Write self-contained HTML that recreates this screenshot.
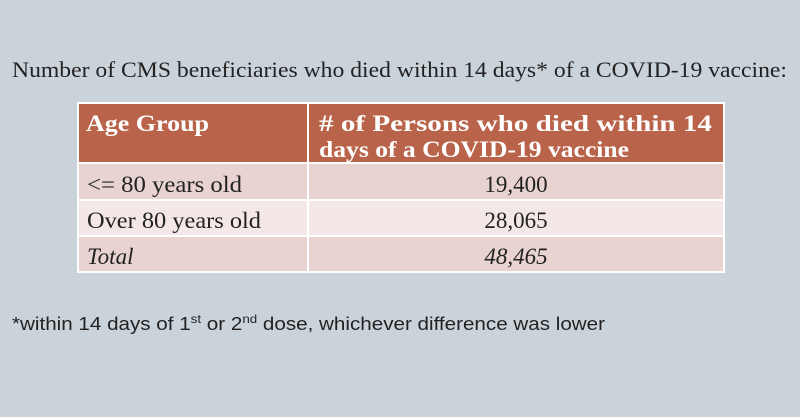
<!DOCTYPE html>
<html><head><meta charset="utf-8"><style>
html,body{margin:0;padding:0;width:800px;height:417px;overflow:hidden;background:#cbd3da;}
</style></head><body>
<svg width="800" height="417" xmlns="http://www.w3.org/2000/svg">
<rect width="800" height="417" fill="#cbd3da"/>
<text x="12" y="77" font-family="Liberation Serif, serif" font-size="22" fill="#222" textLength="775" lengthAdjust="spacingAndGlyphs">Number of CMS beneficiaries who died within 14 days* of a COVID-19 vaccine:</text>
<rect x="78" y="103" width="646" height="60" fill="#b9644a"/>
<rect x="78" y="163" width="646" height="37" fill="#e8d3d0"/>
<rect x="78" y="200" width="646" height="36" fill="#f3e8e7"/>
<rect x="78" y="236" width="646" height="36" fill="#e8d3d0"/>
<g stroke="#fff" stroke-width="2" fill="none">
<rect x="78" y="103" width="646" height="169"/>
<line x1="78" y1="163" x2="724" y2="163"/>
<line x1="78" y1="200" x2="724" y2="200"/>
<line x1="78" y1="236" x2="724" y2="236"/>
<line x1="308" y1="103" x2="308" y2="272"/>
</g>
<g font-family="Liberation Serif, serif" font-size="23">
<text x="86" y="131" fill="#fff" font-weight="bold" textLength="123" lengthAdjust="spacingAndGlyphs">Age Group</text>
<text x="319" y="131" fill="#fff" font-weight="bold" textLength="393" lengthAdjust="spacingAndGlyphs"># of Persons who died within 14</text>
<text x="319" y="157" fill="#fff" font-weight="bold" textLength="310" lengthAdjust="spacingAndGlyphs">days of a COVID-19 vaccine</text>
<text x="87" y="192" fill="#222" textLength="155" lengthAdjust="spacingAndGlyphs">&lt;= 80 years old</text>
<text x="87" y="228" fill="#222" textLength="174" lengthAdjust="spacingAndGlyphs">Over 80 years old</text>
<text x="87" y="264" fill="#222" font-style="italic">Total</text>
<text x="516" y="192" fill="#222" text-anchor="middle">19,400</text>
<text x="516" y="228" fill="#222" text-anchor="middle">28,065</text>
<text x="516" y="264" fill="#222" font-style="italic" text-anchor="middle">48,465</text>
</g>
<text x="12" y="330" font-family="Liberation Sans, sans-serif" font-size="18.5" fill="#222" textLength="593" lengthAdjust="spacingAndGlyphs">*within 14 days of 1<tspan font-size="12" dy="-7">st</tspan><tspan dy="7"> or 2</tspan><tspan font-size="12" dy="-7">nd</tspan><tspan dy="7"> dose, whichever difference was lower</tspan></text>
</svg>
</body></html>
